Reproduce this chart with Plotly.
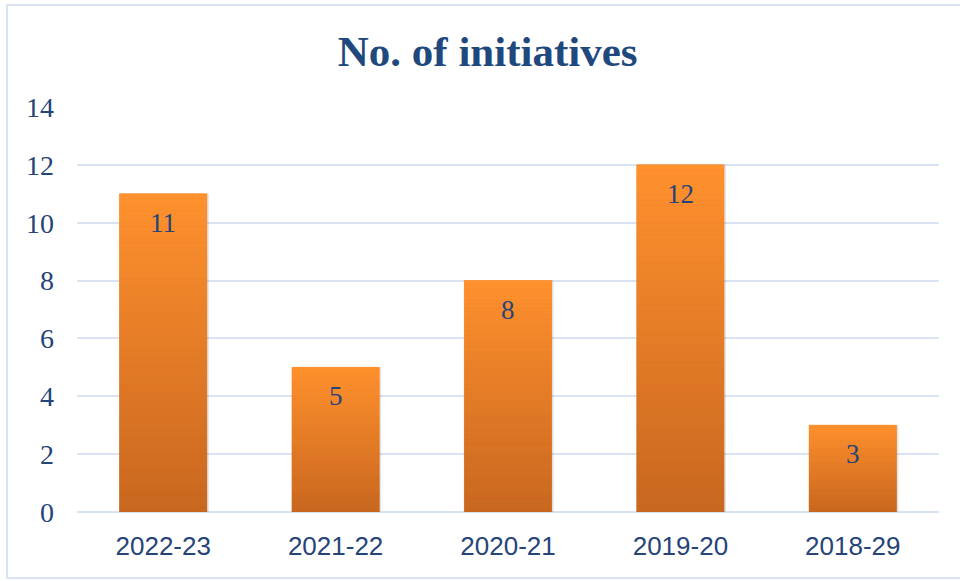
import plotly.graph_objects as go

categories = ["2022-23", "2021-22", "2020-21", "2019-20", "2018-29"]
values = [11, 5, 8, 12, 3]
y_ticks = [0, 2, 4, 6, 8, 10, 12, 14]
title_text = "No. of initiatives"

TOP = (255, 145, 46)
BOT = (200, 103, 32)
N = 60

def mix(t):
    r = round(BOT[0] + (TOP[0] - BOT[0]) * t)
    g = round(BOT[1] + (TOP[1] - BOT[1]) * t)
    b = round(BOT[2] + (TOP[2] - BOT[2]) * t)
    return f"rgb({r},{g},{b})"

fig = go.Figure()
BW = 0.506
# shadow
fig.add_trace(go.Bar(x=categories, y=values, width=BW + 0.012, offset=-BW / 2,
                     marker=dict(color="rgba(0,0,0,0.10)", line=dict(width=0)),
                     hoverinfo="skip", showlegend=False))
# base solid bar
fig.add_trace(go.Bar(x=categories, y=values, width=BW,
                     marker=dict(color=mix(0.5), line=dict(width=0)),
                     showlegend=False))
for k in range(N):
    t = (k + 0.5) / N
    c = mix(t)
    fig.add_trace(go.Bar(x=categories, y=[v / N for v in values],
                         base=[v * k / N for v in values], width=BW,
                         marker=dict(color=c, line=dict(width=0.6, color=c)),
                         hoverinfo="skip", showlegend=False))

for c, v in zip(categories, values):
    fig.add_annotation(x=c, y=v, text=str(v), showarrow=False, yanchor="middle",
                       yshift=-29, font=dict(family="Liberation Serif", size=27, color="#264478"))

# outer border
fig.add_shape(type="rect", xref="paper", yref="paper", x0=-0.0812, x1=1.1, y0=-0.163, y1=1.252,
              line=dict(color="#D9E3F1", width=2), layer="below")

fig.update_layout(
    width=960, height=581,
    margin=dict(l=77, r=21, t=107, b=69),
    paper_bgcolor="white", plot_bgcolor="white",
    barmode="overlay", bargap=0.494,
    title=dict(text=f"<b>{title_text}</b>", x=0.508, xanchor="center", y=0.913, yanchor="middle",
               font=dict(family="Liberation Serif", size=43, color="#1F497D")),
    xaxis=dict(tickfont=dict(family="Liberation Sans", size=26, color="#264478"),
               showgrid=False, showline=False, ticks="", ticklabelstandoff=16),
    yaxis=dict(range=[0, 14], tickvals=y_ticks, showgrid=True, gridcolor="#DAE3F3", gridwidth=2,
               zeroline=True, zerolinecolor="#DAE3F3", zerolinewidth=2,
               tickfont=dict(family="Liberation Serif", size=28, color="#264478"),
               ticks="", ticklabelstandoff=22, fixedrange=True),
)

fig.write_html("out.html")
